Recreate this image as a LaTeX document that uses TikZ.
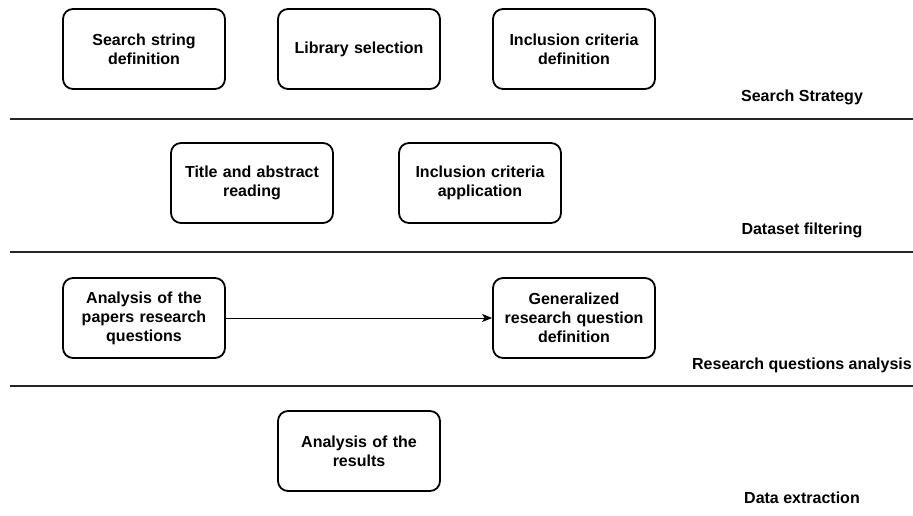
\documentclass[tikz,border=0pt]{standalone}
\usepackage{fontspec}
\setmainfont{Liberation Sans}
\usetikzlibrary{arrows.meta}
\begin{document}
\begin{tikzpicture}[x=1pt,y=-1pt,
  stepbox/.style={draw=black,line width=1.8pt,rounded corners=10pt,
    minimum width=162pt,minimum height=80pt,inner sep=0pt,
    text width=150pt,align=center,
    font=\fontsize{16}{19}\selectfont\bfseries},
  lanelabel/.style={font=\fontsize{16}{19}\selectfont\bfseries,inner sep=0pt},
  sepline/.style={draw=black!85,line width=1.3pt},
  flow/.style={draw=black,line width=1pt,-{Stealth[length=10pt,width=8pt,inset=2.5pt]}}]
\useasboundingbox (0,0) rectangle (913,515);
% boxes
\node[stepbox] (b1) at (144,49) {Search string\\definition};
\node[stepbox] (b2) at (359,49) {Library selection};
\node[stepbox] (b3) at (574,49) {Inclusion criteria\\definition};
\node[stepbox] (b4) at (252,183) {Title and abstract\\reading};
\node[stepbox] (b5) at (480,183) {Inclusion criteria\\application};
\node[stepbox] (b6) at (144,318) {Analysis of the\\papers research\\questions};
\node[stepbox] (b7) at (574,318) {Generalized\\research question\\definition};
\node[stepbox] (b8) at (359,451) {Analysis of the\\results};
% lane labels
\node[lanelabel] (l1) at (802,97) {Search Strategy};
\node[lanelabel] (l2) at (802,230) {Dataset filtering};
\node[lanelabel] (l3) at (802,365) {Research questions analysis};
\node[lanelabel] (l4) at (802,498) {Data extraction};
% separators
\coordinate (s1a) at (10,119); \coordinate (s1b) at (913,119);
\coordinate (s2a) at (10,252); \coordinate (s2b) at (913,252);
\coordinate (s3a) at (10,386); \coordinate (s3b) at (913,386);
\draw[sepline] (s1a) -- (s1b);
\draw[sepline] (s2a) -- (s2b);
\draw[sepline] (s3a) -- (s3b);
% connector
\draw[flow] (b6.east) -- (b7.west);
\end{tikzpicture}
\end{document}
